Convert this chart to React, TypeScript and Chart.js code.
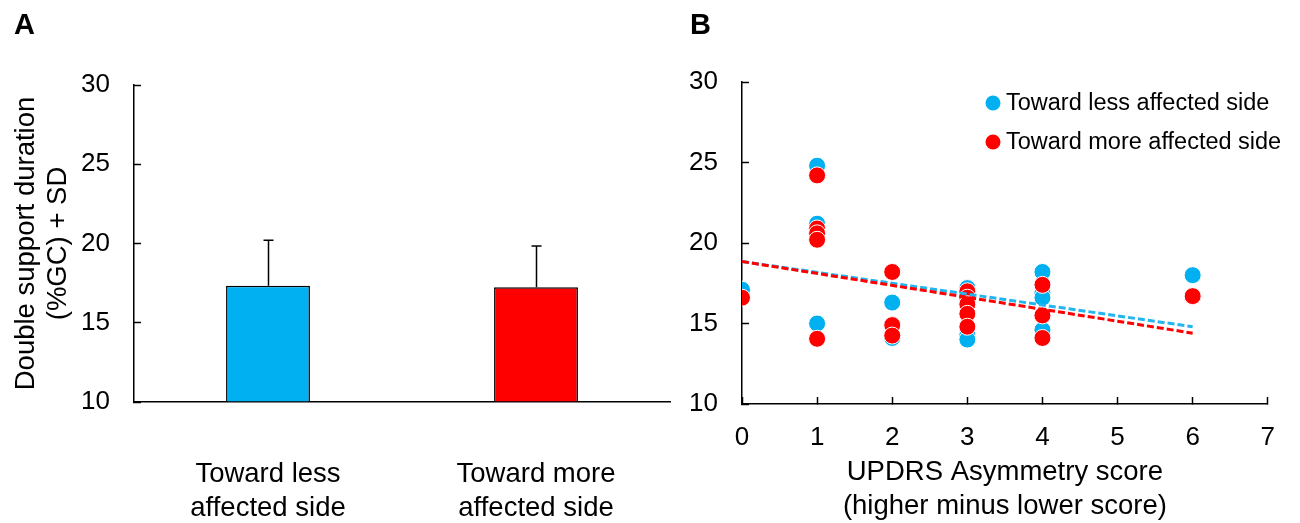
import React, { useEffect, useRef } from "react";
import { Chart, registerables } from "chart.js";

Chart.register(...registerables);

const FONT = '"Liberation Sans", Arial, Helvetica, sans-serif';

// ---------- Panel A data ----------
const barCategories = [
  ["Toward less", "affected side"],
  ["Toward more", "affected side"],
];
const barMeans = [17.34, 17.24];
const barSDs = [2.86, 2.6];
const barColors = ["#00B0F0", "#FF0000"];
const yTitleA = ["Double support duration", "(%GC) + SD"];
const yTicksA = [10, 15, 20, 25, 30];

// ---------- Panel B data ----------
const seriesNames = ["Toward less affected side", "Toward more affected side"];
const lessX = [0, 1, 1, 1, 1, 2, 2, 3, 3, 3, 3, 4, 4, 4, 4, 6];
const lessY = [17.1, 24.8, 21.2, 20.8, 15.0, 16.3, 14.1, 17.2, 16.9, 14.3, 14.0, 18.2, 16.9, 16.6, 14.6, 18.0];
const moreX = [0, 1, 1, 1, 1, 1, 2, 2, 2, 3, 3, 3, 3, 3, 4, 4, 4, 6];
const moreY = [16.6, 24.2, 20.9, 20.6, 20.2, 14.05, 18.2, 14.9, 14.25, 17.0, 16.6, 16.2, 15.6, 14.8, 17.4, 15.5, 14.1, 16.7];
const trendX = [0, 6];
const lessTrendY = [18.85, 14.8];
const moreTrendY = [18.85, 14.4];
const xTitleB = ["UPDRS Asymmetry score", "(higher minus lower score)"];
const xTicksB = [0, 1, 2, 3, 4, 5, 6, 7];
const yTicksB = [10, 15, 20, 25, 30];

const lessColor = "#00B0F0";
const moreColor = "#FF0000";
const lessTrendColor = "#22B5F0";

const TICK_SIZE = 26;
const TITLE_SIZE = 27.5;
const LEGEND_SIZE = 23.5;

const toPoints = (xs: number[], ys: number[]) => xs.map((x, i) => ({ x, y: ys[i] }));

const errorBarPlugin = {
  id: "errorBars",
  afterDatasetsDraw(chart: any) {
    const meta = chart.getDatasetMeta(0);
    const yScale = chart.scales.y;
    const ctx = chart.ctx;
    ctx.save();
    ctx.strokeStyle = "#000";
    ctx.lineWidth = 1.5;
    meta.data.forEach((bar: any, i: number) => {
      const top = yScale.getPixelForValue(barMeans[i] + barSDs[i]);
      const x = Math.round(bar.x) + 0.5;
      ctx.beginPath();
      ctx.moveTo(x, bar.y);
      ctx.lineTo(x, top);
      ctx.moveTo(x - 5, top);
      ctx.lineTo(x + 5, top);
      ctx.stroke();
    });
    ctx.restore();
  },
};

const legendPlugin = {
  id: "insideLegend",
  afterDraw(chart: any) {
    const { ctx, chartArea } = chart;
    const items = [
      { label: seriesNames[0], color: lessColor },
      { label: seriesNames[1], color: moreColor },
    ];
    ctx.save();
    ctx.font = `${LEGEND_SIZE}px ${FONT}`;
    ctx.textBaseline = "middle";
    ctx.textAlign = "left";
    items.forEach((it, i) => {
      const cx = chartArea.left + 251;
      const cy = chartArea.top + 21 + i * 39;
      ctx.beginPath();
      ctx.arc(cx, cy, 7.5, 0, Math.PI * 2);
      ctx.fillStyle = it.color;
      ctx.fill();
      ctx.fillStyle = "#000";
      ctx.fillText(it.label, cx + 13, cy + 1);
    });
    ctx.restore();
  },
};

function PanelA() {
  const ref = useRef<HTMLCanvasElement>(null);
  useEffect(() => {
    if (!ref.current) return;
    const chart = new Chart(ref.current, {
      type: "bar",
      data: {
        labels: barCategories as any,
        datasets: [
          {
            data: barMeans,
            backgroundColor: barColors,
            borderColor: "#000",
            borderWidth: 1.5,
            barPercentage: 0.313,
            categoryPercentage: 1,
            base: 10,
          } as any,
        ],
      },
      options: {
        responsive: false,
        animation: false,
        events: [],
        layout: { padding: { top: 85, right: 10, left: 0, bottom: 0 } },
        plugins: { legend: { display: false }, tooltip: { enabled: false } },
        scales: {
          x: {
            grid: { display: false, drawTicks: false },
            border: { display: true, color: "#000", width: 1.5 },
            ticks: {
              padding: 55,
              color: "#000",
              font: { family: FONT, size: TITLE_SIZE, lineHeight: 34 / TITLE_SIZE },
              maxRotation: 0,
            },
            afterFit: (s: any) => {
              s.height = 121;
            },
          },
          y: {
            min: 10,
            max: 30,
            afterBuildTicks: (s: any) => {
              s.ticks = yTicksA.map((v) => ({ value: v }));
            },
            ticks: {
              padding: 31,
              color: "#000",
              font: { family: FONT, size: TICK_SIZE },
            },
            grid: {
              drawOnChartArea: false,
              drawTicks: true,
              tickLength: -7,
              color: "#000",
              tickWidth: 1.5,
            },
            border: { display: true, color: "#000", width: 1.5 },
            title: {
              display: true,
              text: yTitleA,
              color: "#000",
              font: { family: FONT, size: TITLE_SIZE, lineHeight: 32 / TITLE_SIZE },
              padding: { top: 10, bottom: 0 },
            },
            afterFit: (s: any) => {
              s.width = 134;
            },
          },
        },
      } as any,
      plugins: [errorBarPlugin],
    });
    return () => chart.destroy();
  }, []);
  return <canvas ref={ref} width={680} height={523} style={{ position: "absolute", left: 0, top: 0 }} />;
}

function PanelB() {
  const ref = useRef<HTMLCanvasElement>(null);
  useEffect(() => {
    if (!ref.current) return;
    const chart = new Chart(ref.current, {
      type: "scatter",
      data: {
        datasets: [
          {
            label: "more trend",
            data: toPoints(trendX, moreTrendY),
            showLine: true,
            borderColor: moreColor,
            borderWidth: 3,
            borderDash: [7, 3],
            pointRadius: 0,
            order: 0,
          },
          {
            label: "less trend",
            data: toPoints(trendX, lessTrendY),
            showLine: true,
            borderColor: lessTrendColor,
            borderWidth: 3,
            borderDash: [7, 3],
            pointRadius: 0,
            order: 1,
          },
          {
            label: seriesNames[1],
            data: toPoints(moreX, moreY),
            backgroundColor: moreColor,
            borderColor: "#FFFFFF",
            borderWidth: 1,
            pointRadius: 8.5,
            order: 2,
          },
          {
            label: seriesNames[0],
            data: toPoints(lessX, lessY),
            backgroundColor: lessColor,
            borderColor: "#FFFFFF",
            borderWidth: 1,
            pointRadius: 8.5,
            order: 3,
          },
        ] as any,
      },
      options: {
        responsive: false,
        animation: false,
        events: [],
        layout: { padding: { top: 82, right: 18, left: 0, bottom: 0 } },
        plugins: { legend: { display: false }, tooltip: { enabled: false } },
        scales: {
          x: {
            type: "linear",
            min: 0,
            max: 7,
            afterBuildTicks: (s: any) => {
              s.ticks = xTicksB.map((v) => ({ value: v }));
            },
            ticks: {
              padding: 25,
              color: "#000",
              font: { family: FONT, size: TICK_SIZE },
              maxRotation: 0,
            },
            grid: {
              drawOnChartArea: false,
              drawTicks: true,
              tickLength: -7,
              color: "#000",
              tickWidth: 1.5,
            },
            border: { display: true, color: "#000", width: 1.5 },
            title: {
              display: true,
              text: xTitleB,
              color: "#000",
              font: { family: FONT, size: TITLE_SIZE, lineHeight: 34 / TITLE_SIZE },
              padding: { top: 0, bottom: 0 },
            },
            afterFit: (s: any) => {
              s.height = 119;
            },
          },
          y: {
            type: "linear",
            min: 10,
            max: 30,
            afterBuildTicks: (s: any) => {
              s.ticks = yTicksB.map((v) => ({ value: v }));
            },
            ticks: {
              padding: 31,
              color: "#000",
              font: { family: FONT, size: TICK_SIZE },
            },
            grid: {
              drawOnChartArea: false,
              drawTicks: true,
              tickLength: -7,
              color: "#000",
              tickWidth: 1.5,
            },
            border: { display: true, color: "#000", width: 1.5 },
            afterFit: (s: any) => {
              s.width = 62;
            },
          },
        },
      } as any,
      plugins: [legendPlugin],
    });
    return () => chart.destroy();
  }, []);
  return <canvas ref={ref} width={620} height={523} style={{ position: "absolute", left: 680, top: 0 }} />;
}

const letterStyle: React.CSSProperties = {
  position: "absolute",
  top: 8,
  fontFamily: FONT,
  fontWeight: "bold",
  fontSize: 29,
  lineHeight: "33px",
  color: "#000",
};

export default function App() {
  return (
    <div style={{ position: "absolute", left: 0, top: 0, width: 1300, height: 523, background: "#fff", overflow: "hidden" }}>
      <PanelA />
      <PanelB />
      <div style={{ ...letterStyle, left: 14 }}>A</div>
      <div style={{ ...letterStyle, left: 690 }}>B</div>
    </div>
  );
}
